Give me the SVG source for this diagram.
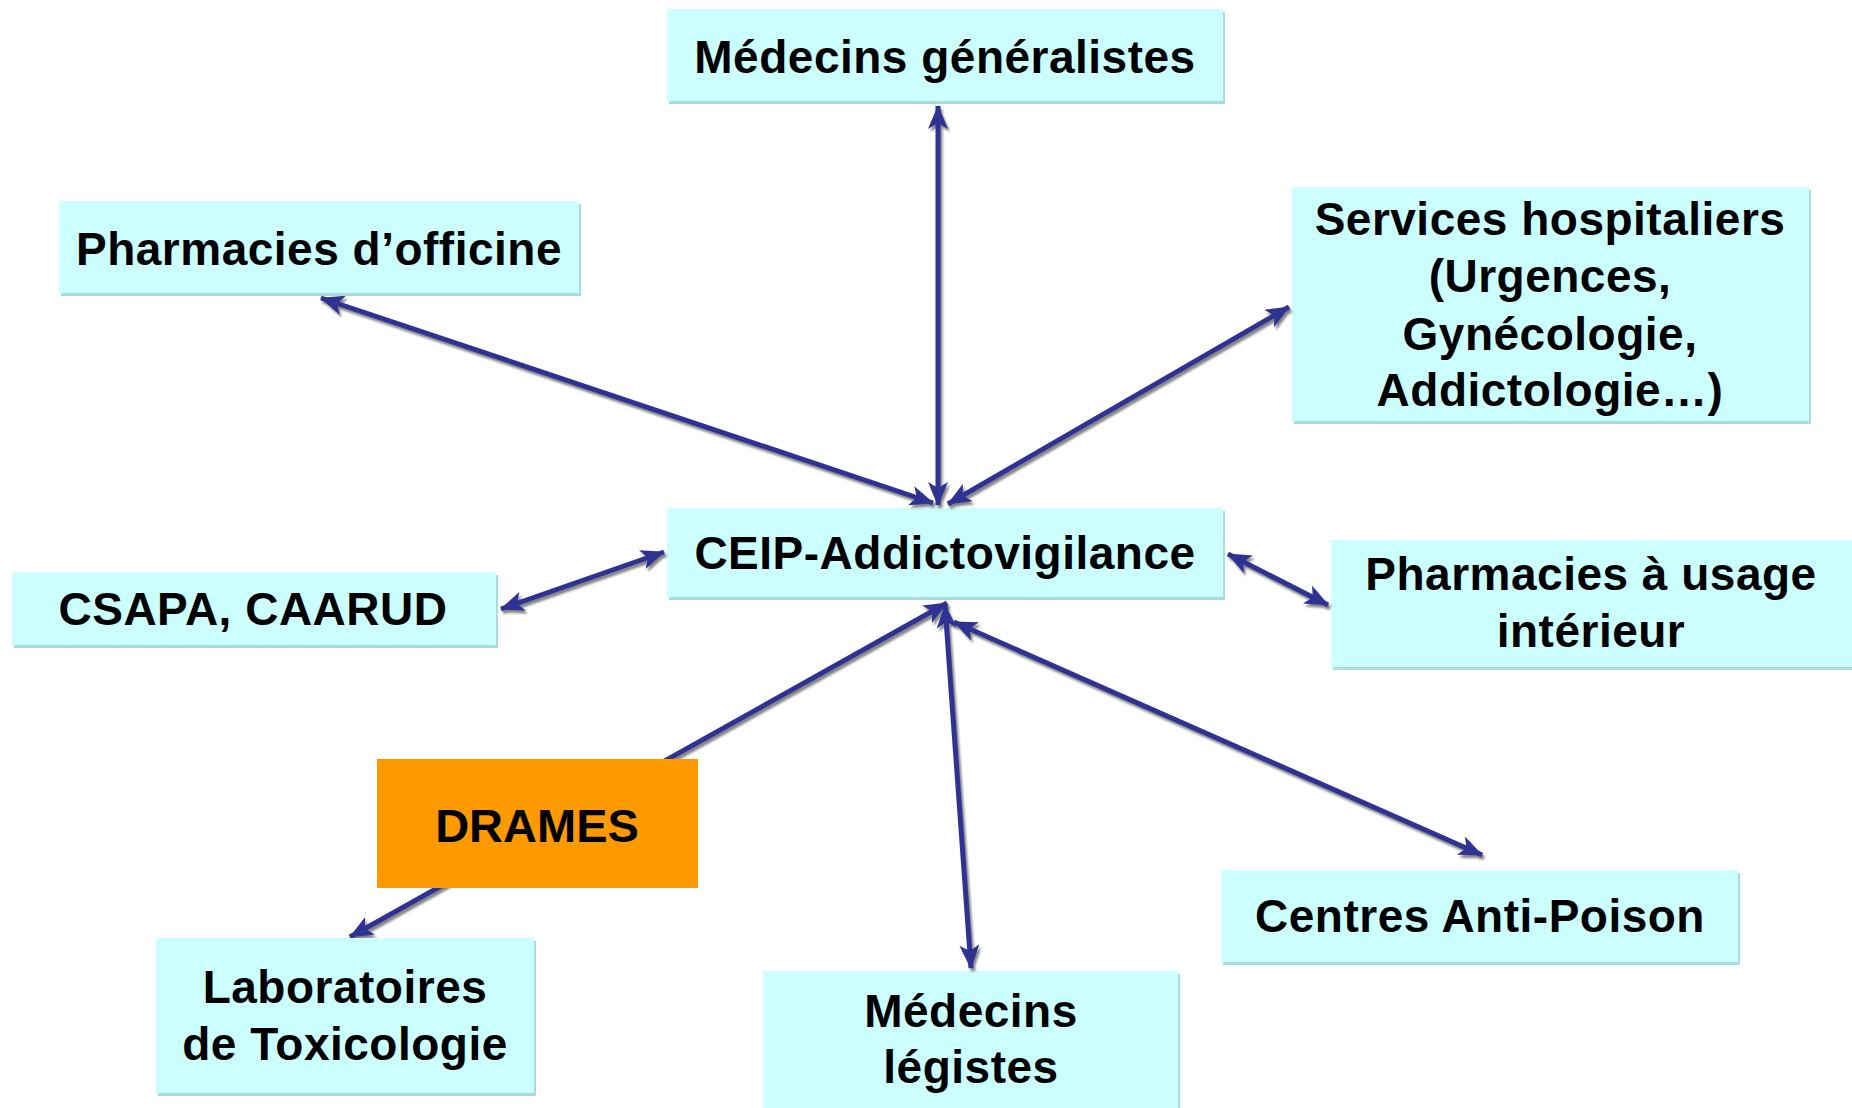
<svg xmlns="http://www.w3.org/2000/svg" width="1852" height="1108" viewBox="0 0 1852 1108">
<style>
.box{fill:#CCFFFF;}
.sh{fill:#A9DCDC;}
.lbl{font-family:"Liberation Sans",Arial,sans-serif;font-weight:bold;font-size:46px;fill:#000;text-anchor:middle;letter-spacing:0.5px;}
.drames{fill:#FF9900;}
.dl{font-family:"Liberation Sans",Arial,sans-serif;font-weight:bold;font-size:47px;fill:#000;text-anchor:middle;}
.conn line{stroke:#2E3192;stroke-width:5;fill:none;marker-start:url(#ah);marker-end:url(#ah);}
</style>
<defs>
<marker id="ah" markerUnits="userSpaceOnUse" markerWidth="24" markerHeight="20" viewBox="0 0 24 20" refX="23" refY="10" orient="auto-start-reverse">
<path d="M0,0 L24,10 L0,20 L6,10 z" fill="#2E3192"/>
</marker>
<filter id="ds" x="-10%" y="-10%" width="120%" height="120%">
<feDropShadow dx="2" dy="3" stdDeviation="0.8" flood-color="#666" flood-opacity="0.8"/>
</filter>
</defs>
<rect width="1852" height="1108" fill="#fff"/>

<g id="conn-back" class="conn" filter="url(#ds)">
<line x1="350" y1="937" x2="947" y2="603"/>
</g>

<g id="n-drames">
<rect class="drames" x="377" y="759" width="321" height="129"/>
<text class="dl" x="537" y="842">DRAMES</text>
</g>

<g id="n-generalistes">
<rect class="sh" x="669" y="12" width="556" height="92"/>
<rect class="box" x="667" y="9" width="556" height="92"/>
<text class="lbl" x="945" y="73">Médecins généralistes</text>
</g>

<g id="n-officine">
<rect class="sh" x="61" y="204" width="520" height="92"/>
<rect class="box" x="59" y="201" width="520" height="92"/>
<text class="lbl" x="319" y="265">Pharmacies d’officine</text>
</g>

<g id="n-hospitaliers">
<rect class="sh" x="1294" y="190" width="517" height="234"/>
<rect class="box" x="1292" y="187" width="517" height="234"/>
<text class="lbl" x="1550" y="235">Services hospitaliers</text>
<text class="lbl" x="1550" y="292">(Urgences,</text>
<text class="lbl" x="1550" y="350">Gynécologie,</text>
<text class="lbl" x="1550" y="406">Addictologie…)</text>
</g>

<g id="n-ceip">
<rect class="sh" x="669" y="511" width="556" height="89"/>
<rect class="box" x="667" y="508" width="556" height="89"/>
<text class="lbl" x="945" y="569">CEIP-Addictovigilance</text>
</g>

<g id="n-csapa">
<rect class="sh" x="14" y="575" width="484" height="73"/>
<rect class="box" x="12" y="572" width="484" height="73"/>
<text class="lbl" x="253" y="625" letter-spacing="2">CSAPA, CAARUD</text>
</g>

<g id="n-pui">
<rect class="sh" x="1333" y="543" width="519" height="127"/>
<rect class="box" x="1331" y="540" width="521" height="127"/>
<text class="lbl" x="1591" y="590">Pharmacies à usage</text>
<text class="lbl" x="1591" y="647">intérieur</text>
</g>

<g id="n-labos">
<rect class="sh" x="158" y="941" width="378" height="155"/>
<rect class="box" x="156" y="938" width="378" height="155"/>
<text class="lbl" x="345" y="1003">Laboratoires</text>
<text class="lbl" x="345" y="1060">de Toxicologie</text>
</g>

<g id="n-legistes">
<rect class="sh" x="765" y="974" width="415" height="134"/>
<rect class="box" x="763" y="971" width="415" height="137"/>
<text class="lbl" x="971" y="1027">Médecins</text>
<text class="lbl" x="971" y="1083">légistes</text>
</g>

<g id="n-antipoison">
<rect class="sh" x="1223" y="873" width="517" height="92"/>
<rect class="box" x="1221" y="870" width="517" height="92"/>
<text class="lbl" x="1480" y="932">Centres Anti-Poison</text>
</g>

<g id="connectors" class="conn" filter="url(#ds)">
<line x1="938" y1="106" x2="938" y2="505"/>
<line x1="321" y1="298" x2="933" y2="503"/>
<line x1="1289" y1="307" x2="948" y2="504"/>
<line x1="501" y1="609" x2="664" y2="552"/>
<line x1="1228" y1="554" x2="1328" y2="605"/>
<line x1="945" y1="605" x2="971" y2="968"/>
<line x1="954" y1="622" x2="1482" y2="855"/>
</g>
</svg>
